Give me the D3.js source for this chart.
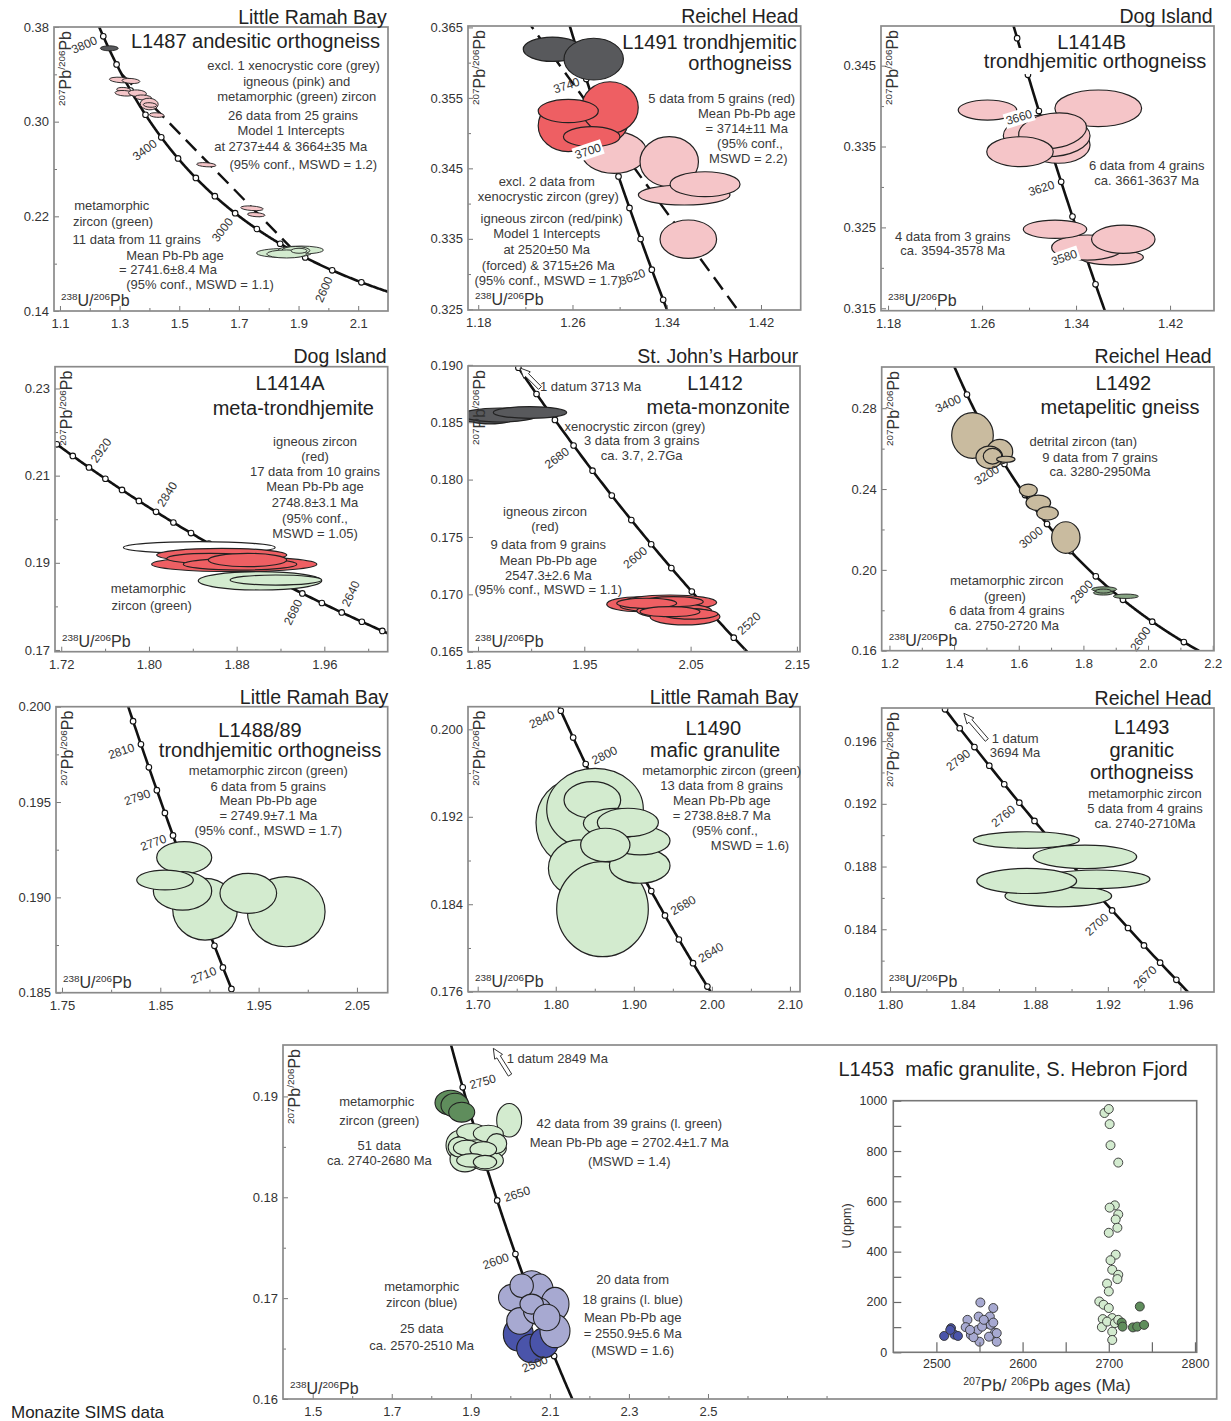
<!DOCTYPE html>
<html><head><meta charset="utf-8">
<script src="https://cdn.jsdelivr.net/npm/d3@7"></script>
<style>body{margin:0;background:#fff} text{font-family:"Liberation Sans",Arial,sans-serif}</style>
</head><body>
<svg id="c" width="1231" height="1421"></svg>
<script>
// ================= DATA =================
// Axis tick values per panel
const xTicksA=[1.1,1.3,1.5,1.7,1.9,2.1], xMinorA=[1.2,1.4,1.6,1.8,2.0], yTicksA=[0.14,0.22,0.30,0.38], yMinorA=[0.18,0.26,0.34];
const xTicksB=[1.18,1.26,1.34,1.42], xMinorB=[1.22,1.30,1.38], yTicksB=[0.325,0.335,0.345,0.355,0.365], yMinorB=[0.330,0.340,0.350,0.360];
const xTicksC=[1.18,1.26,1.34,1.42], xMinorC=[1.22,1.30,1.38], yTicksC=[0.315,0.325,0.335,0.345], yMinorC=[0.320,0.330,0.340];
const xTicksD=[1.72,1.80,1.88,1.96], xMinorD=[1.76,1.84,1.92,2.00], yTicksD=[0.17,0.19,0.21,0.23], yMinorD=[0.18,0.20,0.22];
const xTicksE=[1.85,1.95,2.05,2.15], xMinorE=[1.90,2.00,2.10], yTicksE=[0.165,0.170,0.175,0.180,0.185,0.190], yMinorE=[];
const xTicksF=[1.2,1.4,1.6,1.8,2.0,2.2], xMinorF=[1.3,1.5,1.7,1.9,2.1], yTicksF=[0.16,0.20,0.24,0.28], yMinorF=[0.18,0.22,0.26];
const xTicksG=[1.75,1.85,1.95,2.05], xMinorG=[1.80,1.90,2.00], yTicksG=[0.185,0.190,0.195,0.200], yMinorG=[0.1875,0.1925,0.1975];
const xTicksH=[1.70,1.80,1.90,2.00,2.10], xMinorH=[1.75,1.85,1.95,2.05], yTicksH=[0.176,0.184,0.192,0.200], yMinorH=[0.180,0.188,0.196];
const xTicksI=[1.80,1.84,1.88,1.92,1.96], xMinorI=[1.82,1.86,1.90,1.94], yTicksI=[0.180,0.184,0.188,0.192,0.196], yMinorI=[0.182,0.186,0.190,0.194];
const xTicksK=[1.5,1.7,1.9,2.1,2.3,2.5], xMinorK=[1.6,1.8,2.0,2.2,2.4,2.6,2.7,2.8], yTicksK=[0.16,0.17,0.18,0.19], yMinorK=[0.165,0.175,0.185];
const xTicksU=[2500,2600,2700,2800], xMinorU=[2550,2650,2750], yTicksU=[0,200,400,600,800,1000], yMinorU=[100,300,500,700,900];

// Concordia marker ages (Ma) and labelled ages
const concAgesA=[2500,2600,2700,2800,2900,3000,3100,3200,3300,3400,3500,3600,3700,3800], concLabelsA=[3800,3400,3000,2600];
const concAgesB=[3580,3600,3620,3640,3660,3680,3700,3720,3740,3760,3780], concLabelsB=[3740,3700,3620];
const concAgesC=[3540,3560,3580,3600,3620,3640,3660,3680,3700,3720], concLabelsC=[3660,3620,3580];
const concAgesD=[2580,2600,2620,2640,2660,2680,2700,2720,2740,2760,2780,2800,2820,2840,2860,2880,2900,2920,2940,2960,2980], concLabelsD=[2920,2840,2680,2640];
const concAgesE=[2500,2520,2540,2560,2580,2600,2620,2640,2660,2680,2700,2720,2740,2760], concLabelsE=[2680,2600,2520];
const concAgesF=[2400,2500,2600,2700,2800,2900,3000,3100,3200,3300,3400,3500], concLabelsF=[3400,3200,3000,2800,2600];
const concAgesG=[2680,2690,2700,2710,2720,2730,2740,2750,2760,2770,2780,2790,2800,2810,2820,2830,2840], concLabelsG=[2810,2790,2770,2710];
const concAgesH=[2600,2620,2640,2660,2680,2700,2720,2740,2760,2780,2800,2820,2840,2860], concLabelsH=[2840,2800,2680,2640];
const concAgesI=[2640,2650,2660,2670,2680,2690,2700,2710,2720,2730,2740,2750,2760,2770,2780,2790,2800,2810], concLabelsI=[2790,2760,2700,2670];
const concAgesK=[2450,2500,2550,2600,2650,2700,2750,2800], concLabelsK=[2750,2650,2600,2500];

// Discordia intercept ages (Ma): [upper, lower]
const discA=[3664,2737], discB=[3715,2520];

// Error ellipses: [238U/206Pb, 207Pb/206Pb, half-width x, half-height y, tilt deg]
const greyA=[[1.2654,0.3620,0.030,0.0021,0]];
const pinkA=[[1.3057,0.3352,0.040,0.0023,4],[1.338,0.3344,0.030,0.0021,4],[1.3137,0.3270,0.0235,0.0019,4],[1.3164,0.3240,0.0319,0.0023,4],
 [1.360,0.3240,0.0302,0.0028,4],[1.3795,0.3204,0.0278,0.0021,4],[1.3993,0.3149,0.0302,0.0049,4],[1.402,0.3141,0.0225,0.0019,4],
 [1.4244,0.3056,0.0245,0.0019,4],[1.5907,0.2636,0.0325,0.0017,4],[1.744,0.2268,0.0379,0.0019,4],[1.758,0.2214,0.0295,0.0017,4]];
const greenA=[[1.8513,0.1890,0.0922,0.0038,0],[1.9077,0.1915,0.0755,0.0034,0],[1.8909,0.1911,0.047,0.0034,0],[1.860,0.1882,0.067,0.0034,0],[1.9016,0.1909,0.0268,0.0021,0]];

const greyB=[[1.2430,0.3619,0.0248,0.00173,0],[1.2780,0.3605,0.0252,0.00296,0]];
const pinkB=[[1.2954,0.34725,0.0276,0.00296,0],[1.3421,0.34594,0.0248,0.00355,0],[1.3548,0.34122,0.0389,0.00142,0],[1.3725,0.34275,0.0297,0.00177,0],[1.3583,0.33495,0.0240,0.00272,0]];
const redB=[[1.2850,0.3515,0.022,0.0030,0],[1.2564,0.35104,0.0255,0.00366,0],[1.2918,0.35363,0.0240,0.00366,0],[1.2564,0.35314,0.0255,0.00166,0],[1.2763,0.34949,0.0240,0.00142,0]];

const pinkC=[[1.2646,0.33951,0.0249,0.00124,0],[1.3589,0.33972,0.0369,0.00227,0],[1.3249,0.33519,0.0270,0.00226,0],[1.3150,0.33632,0.0369,0.00258,0],
 [1.3200,0.33694,0.0291,0.00216,-8],[1.2923,0.33436,0.0283,0.00185,0],
 [1.3703,0.3213,0.0270,0.00093,0],[1.3497,0.32251,0.0305,0.00155,0],[1.3221,0.32477,0.0270,0.00114,0],[1.3802,0.32354,0.0270,0.00175,0]];

const whiteD=[[1.8459,0.19351,0.0692,0.00134,0]];
const greenD=[[1.9013,0.18587,0.0563,0.00211,0],[1.9158,0.18605,0.0418,0.00115,0]];
const redD=[[1.8778,0.18968,0.0753,0.00172,0],[1.8664,0.19179,0.0593,0.00153,0],[1.8557,0.1910,0.0395,0.00115,0],[1.8831,0.18968,0.0517,0.00134,0],[1.8899,0.19064,0.0358,0.00153,0]];

const greyE=[[1.8613,0.18537,0.0235,0.00052,0],[1.8707,0.18563,0.0357,0.00061,0],[1.8989,0.18585,0.0345,0.00051,0]];
const redE=[[2.0024,0.16914,0.0313,0.00065,0],[2.0306,0.16929,0.0439,0.00065,0],[2.0212,0.16898,0.0376,0.00052,0],[2.0346,0.16856,0.0353,0.00065,0],
 [2.0447,0.16805,0.0329,0.00072,0],[2.0494,0.16828,0.0263,0.00044,0],[2.0337,0.16936,0.0282,0.00044,0],[2.0087,0.16922,0.0282,0.00044,0],[2.0306,0.16849,0.0282,0.00044,0]];

const tanF=[[1.4569,0.26649,0.0644,0.01129,0],[1.5411,0.25847,0.0402,0.00609,0],[1.5089,0.25575,0.0412,0.00554,0],[1.5188,0.25624,0.0285,0.00386,0],[1.5600,0.25475,0.0285,0.00149,0],
 [1.6296,0.23936,0.0278,0.00312,0],[1.6605,0.23317,0.0381,0.00386,0],[1.6890,0.22797,0.0334,0.00332,0],[1.7456,0.21600,0.0439,0.00782,0]];
const greenF=[[1.8644,0.19040,0.0387,0.00124,0],[1.8617,0.18862,0.0309,0.00109,0],[1.9313,0.18693,0.0387,0.00109,0],[1.8617,0.18951,0.0248,0.00099,0]];

const greenG=[[1.8955,0.18938,0.0329,0.00162,0],[1.8743,0.19209,0.0280,0.00083,0],[1.8726,0.19034,0.0297,0.00101,0],[1.8548,0.19091,0.0288,0.00052,0],
 [1.9781,0.18925,0.0395,0.00184,0],[1.9395,0.19021,0.0288,0.00105,0]];

const greenH=[[1.8221,0.19148,0.0474,0.00389,0],[1.8503,0.19269,0.0619,0.00373,0],[1.8301,0.18729,0.0395,0.00259,0],[1.8599,0.18355,0.0587,0.00435,0],
 [1.9076,0.18752,0.0388,0.00160,0],[1.9080,0.18981,0.0384,0.00130,0],[1.8469,0.19354,0.0363,0.00167,0],[1.8770,0.19140,0.0416,0.00137,0],
 [1.8924,0.19148,0.0391,0.00130,0],[1.8635,0.18942,0.0316,0.00153,0]];

const greenI=[[1.8751,0.18969,0.0292,0.00053,0],[1.8927,0.18612,0.0294,0.00069,0],[1.9138,0.18719,0.0294,0.00059,0],[1.9074,0.18862,0.0285,0.00075,0],[1.8753,0.18708,0.0275,0.00080,0]];

const dGreenK=[[1.8494,0.18938,0.0400,0.00124,0],[1.8600,0.18913,0.0354,0.00119,0],[1.8770,0.18844,0.0329,0.00099,0]];
const lGreenK=[[1.9971,0.18764,0.0316,0.00166,0],[1.8727,0.18515,0.0354,0.00149,0],[1.9316,0.18482,0.0582,0.00114,0],[1.8853,0.18376,0.0379,0.00124,0],
 [1.9402,0.18366,0.0422,0.00099,0],[1.9063,0.18548,0.0506,0.00085,0],[1.9022,0.18648,0.0379,0.00083,0],[1.9443,0.18632,0.0379,0.00083,0],
 [1.8706,0.18499,0.0278,0.00099,0],[1.9655,0.18532,0.0253,0.00099,0],[1.8896,0.18490,0.0336,0.00075,0],[1.9316,0.18475,0.0336,0.00075,0],
 [1.9022,0.18366,0.0379,0.00067,0],[1.9359,0.18349,0.0296,0.00067,0]];
const dBlueK=[[2.0202,0.16642,0.0379,0.00166,0],[2.0540,0.16501,0.0379,0.00141,0],[2.0857,0.16559,0.0359,0.00149,0]];
const lBlueK=[[2.0540,0.17123,0.0379,0.00149,0],[2.0055,0.17006,0.0354,0.00132,0],[2.0750,0.17073,0.0336,0.00166,0],[2.1130,0.16941,0.0354,0.00166,0],
 [2.0244,0.16774,0.0336,0.00132,0],[2.0687,0.16874,0.0354,0.00132,0],[2.1130,0.16675,0.0379,0.00166,0],[2.0287,0.17123,0.0296,0.00116,0],
 [2.0540,0.16941,0.0296,0.00099,0],[2.0920,0.16808,0.0336,0.00132,0]];

// Inset: [207Pb/206Pb age (Ma), U (ppm)]
const dBlueU=[[2509,65],[2517,96],[2521,70],[2525,65],[2516,89]];
const lBlueU=[[2551,198],[2566,176],[2536,129],[2549,142],[2534,100],[2540,69],[2550,42],[2548,89],[2558,113],[2562,142],[2563,109],[2568,78],[2570,42],[2553,102],[2543,60],[2561,62],[2555,129],[2566,118],[2539,89],[2570,76]];
const lGreenU=[[2695,951],[2700,967],[2701,907],[2702,823],[2711,754],[2707,584],[2701,575],[2711,548],[2708,528],[2710,495],[2700,475],[2708,388],[2702,366],[2704,328],[2711,308],[2710,291],[2698,273],[2700,242],[2689,202],[2694,189],[2700,176],[2693,132],[2704,136],[2692,100],[2704,82],[2704,49],[2698,122],[2707,116],[2711,129]];
const dGreenU=[[2736,182],[2715,118],[2728,99],[2733,102],[2741,109],[2716,102]];

// ================= STYLE / LAYOUT =================
const COL={pink:'#f5c5c8',red:'#ee5f63',grey:'#58595c',lgreen:'#d3ebcf',tan:'#c9bb9f',mgreen:'#86a382',dgreen:'#5f8d5c',lblue:'#a7a9d1',dblue:'#4a54aa',white:'#ffffff'};
const svg=d3.select('#c');
svg.append('rect').attr('width',1231).attr('height',1421).attr('fill','#fff');

// Theoretical Tera-Wasserburg concordia (reference curve, decay constants of Jaffey et al. 1971)
const L238=1.55125e-4, L235=9.8485e-4, U85=137.88;
function concordia(t){const a=Math.expm1(L238*t), b=Math.expm1(L235*t); return [1/a, b/(U85*a)];}

const panels=[
 {id:'A',frame:[54,27,388,311],xd:[1.08,2.2],yd:[0.14,0.38],xt:xTicksA,xm:xMinorA,yt:yTicksA,ym:yMinorA,xf:'.1f',yf:'.2f',
  tr:[2300,3950],ages:concAgesA,lab:concLabelsA,sides:[-1,-1,-1,-1],bgLab:[],disc:discA,discS:[0,1],
  sets:[[greyA,COL.grey,0.9],[pinkA,COL.pink,0.9],[greenA,COL.lgreen,0.9]],
  loc:['Little Ramah Bay',386.7,24],titles:[['L1487 andesitic orthogneiss',380,41,'end']],
  notes:[['excl. 1 xenocrystic core (grey)',293.5,65],['igneous (pink) and',296.7,81],['metamorphic (green) zircon',296.7,96.7],['26 data from 25 grains',293,115],
   ['Model 1 Intercepts',291,130.7],['at 2737±44 & 3664±35 Ma',290.7,146.7],['(95% conf., MSWD = 1.2)',303.3,164],
   ['metamorphic',111.7,205.7],['zircon (green)',113,221.7],['11 data from 11 grains',136.7,239],['Mean Pb-Pb age',175,255],['= 2741.6±8.4 Ma',168,269.3],['(95% conf., MSWD = 1.1)',200,284.3]]},
 {id:'B',frame:[468,26,800.7,310],xd:[1.1713,1.4537],yd:[0.3249,0.3652],xt:xTicksB,xm:xMinorB,yt:yTicksB,ym:yMinorB,xf:'.2f',yf:'.3f',
  tr:[3550,3800],ages:concAgesB,lab:concLabelsB,sides:[-1,-1,-1],bgLab:[3700],disc:discB,discS:[-0.15,1],
  sets:[[greyB,COL.grey,1.2],[pinkB,COL.pink,1.2],[redB,COL.red,1.2]],
  loc:['Reichel Head',798.3,23],titles:[['L1491 trondhjemitic',796.7,42.3,'end'],['orthogneiss',791.7,62.5,'end']],
  notes:[['5 data from 5 grains (red)',721.7,98.3],['Mean Pb-Pb age',746.7,113.3],['= 3714±11 Ma',746.7,128.3],['(95% conf.,',750,143.3],['MSWD = 2.2)',748.3,158.3],
   ['excl. 2 data from',546.7,181.7],['xenocrystic zircon (grey)',548.3,196.7],['igneous zircon (red/pink)',551.7,218.3],['Model 1 Intercepts',546.7,233.3],
   ['at 2520±50 Ma',546.7,249.3],['(forced) & 3715±26 Ma',548.3,265],['(95% conf., MSWD = 1.7)',548.3,280]]},
 {id:'C',frame:[881,26,1214,310.7],xd:[1.174,1.4574],yd:[0.3147,0.3499],xt:xTicksC,xm:xMinorC,yt:yTicksC,ym:yMinorC,xf:'.2f',yf:'.3f',
  tr:[3480,3760],ages:concAgesC,lab:concLabelsC,sides:[-1,-1,-1],bgLab:[3660,3580],
  sets:[[pinkC,COL.pink,1.2]],
  loc:['Dog Island',1212.7,23],titles:[['L1414B',1091.7,41.7,'middle',true],['trondhjemitic orthogneiss',1095,61,'middle',true]],
  notes:[['6 data from 4 grains',1146.7,165],['ca. 3661-3637 Ma',1146.7,180],['4 data from 3 grains',952.7,236],['ca. 3594-3578 Ma',952.7,250.7]]},
 {id:'D',frame:[55,366.7,387.7,651.7],xd:[1.7143,2.0178],yd:[0.1696,0.235],xt:xTicksD,xm:xMinorD,yt:yTicksD,ym:yMinorD,xf:'.2f',yf:'.2f',
  tr:[2540,3020],ages:concAgesD,lab:concLabelsD,sides:[1,1,-1,1],bgLab:[],
  sets:[[whiteD,COL.white,1.2],[greenD,COL.lgreen,1.2],[redD,COL.red,1.2]],
  loc:['Dog Island',386.7,363],titles:[['L1414A',290,383.3,'middle'],['meta-trondhjemite',293.3,408.3,'middle']],
  notes:[['igneous zircon',315,441.7],['(red)',315,456.7],['17 data from 10 grains',315,471.7],['Mean Pb-Pb age',315,486.7],['2748.8±3.1 Ma',315,502.3],
   ['(95% conf.,',315,518.3],['MSWD = 1.05)',315,533.3],['metamorphic',148.3,588.3],['zircon (green)',151.7,605]]},
 {id:'E',frame:[468,366,800,651.7],xd:[1.8406,2.1529],yd:[0.165,0.1899],xt:xTicksE,xm:xMinorE,yt:yTicksE,ym:yMinorE,xf:'.2f',yf:'.3f',
  tr:[2450,2790],ages:concAgesE,lab:concLabelsE,sides:[-1,-1,1],bgLab:[],
  sets:[[greyE,COL.grey,1.2],[redE,COL.red,1.2]],arrow:[[1.9083,0.18798],[1.8895,0.18973]],
  loc:['St. John’s Harbour',798.3,363],titles:[['L1412',715,383.3,'middle'],['meta-monzonite',718.3,406.7,'middle']],
  notes:[['1 datum 3713 Ma',540,386.7,'start'],['xenocrystic zircon (grey)',635,426.7],['3 data from 3 grains',641.7,440.7],['ca. 3.7, 2.7Ga',641.7,455],
   ['igneous zircon',545,511.7],['(red)',545,526.7],['9 data from 9 grains',548.3,544],['Mean Pb-Pb age',548.3,560],['2547.3±2.6 Ma',548.3,575],['(95% conf., MSWD = 1.1)',548.3,589.3]]},
 {id:'F',frame:[881.7,367,1214,650.7],xd:[1.176,2.204],yd:[0.16,0.3004],xt:xTicksF,xm:xMinorF,yt:yTicksF,ym:yMinorF,xf:'.1f',yf:'.2f',
  tr:[2300,3600],ages:concAgesF,lab:concLabelsF,sides:[-1,-1,-1,-1,-1],bgLab:[],
  sets:[[tanF,COL.tan,1.2],[greenF,COL.mgreen,0.9]],
  loc:['Reichel Head',1211.7,363],titles:[['L1492',1123.3,382.7,'middle'],['metapelitic gneiss',1120,406.7,'middle']],
  notes:[['detrital zircon (tan)',1083.3,441.7],['9 data from 7 grains',1100,457.3],['ca. 3280-2950Ma',1100,471.7],
   ['metamorphic zircon',1006.7,580.7],['(green)',1005,596],['6 data from 4 grains',1006.7,610],['ca. 2750-2720 Ma',1006.7,625]]},
 {id:'G',frame:[56,706.7,387.7,992.7],xd:[1.7439,2.0813],yd:[0.185,0.2],xt:xTicksG,xm:xMinorG,yt:yTicksG,ym:yMinorG,xf:'.2f',yf:'.3f',
  tr:[2650,2860],ages:concAgesG,lab:concLabelsG,sides:[-1,-1,-1,-1],bgLab:[],
  sets:[[greenG,COL.lgreen,1.2]],
  loc:['Little Ramah Bay',388.3,703.5],titles:[['L1488/89',260,730,'middle'],['trondhjemitic orthogneiss',270,750,'middle']],
  notes:[['metamorphic zircon (green)',268.3,770.7],['6 data from 5 grains',268.3,786],['Mean Pb-Pb age',268.3,800.7],['= 2749.9±7.1 Ma',268.3,815],['(95% conf., MSWD = 1.7)',268.3,830]]},
 {id:'H',frame:[468,706.7,800,991.7],xd:[1.6876,2.1129],yd:[0.176,0.20207],xt:xTicksH,xm:xMinorH,yt:yTicksH,ym:yMinorH,xf:'.2f',yf:'.3f',
  tr:[2560,2880],ages:concAgesH,lab:concLabelsH,sides:[-1,1,1,1],bgLab:[],
  sets:[[greenH,COL.lgreen,1.2]],
  loc:['Little Ramah Bay',798.3,703.5],titles:[['L1490',713.3,728.3,'middle'],['mafic granulite',715,750,'middle']],
  notes:[['metamorphic zircon (green)',721.7,770],['13 data from 8 grains',721.7,785],['Mean Pb-Pb age',721.7,800],['= 2738.8±8.7 Ma',721.7,815],['(95% conf.,',725,830],['MSWD = 1.6)',750,845]]},
 {id:'I',frame:[881.7,708,1214,992],xd:[1.7954,1.9785],yd:[0.18,0.19811],xt:xTicksI,xm:xMinorI,yt:yTicksI,ym:yMinorI,xf:'.2f',yf:'.3f',
  tr:[2620,2830],ages:concAgesI,lab:concLabelsI,sides:[-1,-1,-1,-1],bgLab:[],
  sets:[[greenI,COL.lgreen,1.2]],arrow:[[1.8533,0.19607],[1.8407,0.19777]],
  loc:['Reichel Head',1211.7,704.5],titles:[['L1493',1141.7,726.7,'middle'],['granitic',1141.7,750,'middle'],['orthogneiss',1141.7,771.7,'middle']],
  notes:[['metamorphic zircon',1145,793.3],['5 data from 4 grains',1145,808.3],['ca. 2740-2710Ma',1145,823.3],['1 datum',991.7,738.3,'start'],['3694 Ma',1015,752.7]]},
 {id:'K',frame:[283,1045,1216.7,1399],xd:[1.4249,3.787],yd:[0.16,0.1951],xt:xTicksK,xm:xMinorK,yt:yTicksK,ym:yMinorK,xf:'.1f',yf:'.2f',
  tr:[2400,2850],ages:concAgesK,lab:concLabelsK,sides:[1,1,-1,-1],bgLab:[],
  sets:[[dGreenK,COL.dgreen,1.1],[lGreenK,COL.lgreen,1.1],[dBlueK,COL.dblue,1.1],[lBlueK,COL.lblue,1.1]],arrow:[[1.9991,0.19212],[1.9569,0.19477]],
  loc:null,titles:[],
  notes:[['1 datum 2849 Ma',506.7,1058.3,'start'],['metamorphic',376.7,1101.7],['zircon (green)',379.3,1120],['51 data',379.3,1145],['ca. 2740-2680 Ma',379.3,1160],
   ['42 data from 39 grains (l. green)',629.3,1123.3],['Mean Pb-Pb age = 2702.4±1.7  Ma',629.3,1142.7],['(MSWD = 1.4)',629.3,1161.7],
   ['metamorphic',421.7,1286],['zircon (blue)',421.7,1302.7],['25 data',421.7,1328.3],['ca. 2570-2510 Ma',421.7,1345],
   ['20 data from',632.7,1279.3],['18 grains (l. blue)',632.7,1299.3],['Mean Pb-Pb age',632.7,1317.7],['= 2550.9±5.6  Ma',632.7,1333.3],['(MSWD = 1.6)',632.7,1350]]}
];

// ================= DRAW =================
function richText(g,x,y,parts,size,rot,anchor){
  const t=g.append('text').attr('x',x).attr('y',y).attr('font-size',size).attr('fill','#333').attr('text-anchor',anchor||'start');
  if(rot) t.attr('transform',`rotate(${rot},${x},${y})`);
  let up=false;
  parts.forEach(([s,sup])=>{
    const sp=t.append('tspan').text(s);
    if(sup){sp.attr('font-size',size*0.62); if(!up){sp.attr('dy',-size*0.38); up=true;}}
    else if(up){sp.attr('dy',size*0.38); up=false;}
  });
  return t;
}
function arrowPath(p1,p2){
  const dx=p2[0]-p1[0], dy=p2[1]-p1[1], L=Math.hypot(dx,dy), ux=dx/L, uy=dy/L, nx=-uy, ny=ux;
  const hw=2, hh=4.6, hl=10, bx=p2[0]-ux*hl, by=p2[1]-uy*hl;
  const pts=[[p1[0]+nx*hw,p1[1]+ny*hw],[bx+nx*hw,by+ny*hw],[bx+nx*hh,by+ny*hh],p2,[bx-nx*hh,by-ny*hh],[bx-nx*hw,by-ny*hw],[p1[0]-nx*hw,p1[1]-ny*hw]];
  return 'M'+pts.map(p=>p[0].toFixed(1)+','+p[1].toFixed(1)).join('L')+'Z';
}

panels.forEach(p=>{
  const [x0,y0,x1,y1]=p.frame;
  const x=d3.scaleLinear().domain(p.xd).range([x0,x1]);
  const y=d3.scaleLinear().domain(p.yd).range([y1,y0]);
  const g=svg.append('g');
  const cid='clip'+p.id;
  svg.append('clipPath').attr('id',cid).append('rect').attr('x',x0).attr('y',y0).attr('width',x1-x0).attr('height',y1-y0);
  const plot=g.append('g').attr('clip-path',`url(#${cid})`);

  // discordia (dashed)
  if(p.disc){
    const a=concordia(p.disc[0]), b=concordia(p.disc[1]);
    const pt=s=>[a[0]+s*(b[0]-a[0]), a[1]+s*(b[1]-a[1])];
    const s0=pt(p.discS[0]), s1=pt(p.discS[1]);
    plot.append('line').attr('x1',x(s0[0])).attr('y1',y(s0[1])).attr('x2',x(s1[0])).attr('y2',y(s1[1]))
      .attr('stroke','#111').attr('stroke-width',2.4).attr('stroke-dasharray','15,8');
  }
  // concordia curve
  const ts=d3.range(p.tr[0],p.tr[1]+1,2).map(concordia);
  plot.append('path').datum(ts).attr('d',d3.line().x(d=>x(d[0])).y(d=>y(d[1])))
    .attr('fill','none').attr('stroke','#111').attr('stroke-width',2.6);
  plot.selectAll(null).data(p.ages.map(concordia)).join('circle')
    .attr('cx',d=>x(d[0])).attr('cy',d=>y(d[1])).attr('r',2.8).attr('fill','#fff').attr('stroke','#111').attr('stroke-width',1.1);

  // ellipses
  p.sets.forEach(([set,col,sw])=>{
    plot.selectAll(null).data(set).join('ellipse')
      .attr('cx',d=>x(d[0])).attr('cy',d=>y(d[1]))
      .attr('rx',d=>Math.abs(x(d[0]+d[2])-x(d[0]))).attr('ry',d=>Math.abs(y(d[1]+d[3])-y(d[1])))
      .attr('transform',d=>`rotate(${d[4]},${x(d[0])},${y(d[1])})`)
      .attr('fill',col).attr('stroke','#222').attr('stroke-width',sw);
  });

  // datum arrow
  if(p.arrow){
    const a=[x(p.arrow[0][0]),y(p.arrow[0][1])], b=[x(p.arrow[1][0]),y(p.arrow[1][1])];
    g.append('path').attr('d',arrowPath(a,b)).attr('fill','#fff').attr('stroke','#333').attr('stroke-width',1);
  }

  // concordia age labels
  p.lab.forEach((age,i)=>{
    const c=concordia(age), c1=concordia(age+4), c2=concordia(age-4);
    const X=x(c[0]), Y=y(c[1]);
    const th=Math.atan2(y(c2[1])-y(c1[1]), x(c2[0])-x(c1[0]))*180/Math.PI;
    const rot=th-90, r=rot*Math.PI/180, side=p.sides[i];
    const px=X+side*7.5*Math.cos(r), py=Y+side*7.5*Math.sin(r);
    const lg=g.append('g').attr('transform',`translate(${px},${py}) rotate(${rot})`);
    const t=lg.append('text').attr('x',0).attr('y',0).attr('dy','0.35em').attr('font-size',12).attr('fill','#333')
      .attr('text-anchor',side>0?'start':'end').text(age);
    if(p.bgLab.includes(age)){
      const bb=t.node().getBBox();
      lg.insert('rect','text').attr('x',bb.x-1.5).attr('y',bb.y-0.5).attr('width',bb.width+3).attr('height',bb.height+1).attr('fill','#fff');
    }
  });

  // axes (ticks inside)
  const ax=g.append('g').attr('font-size',13);
  ax.append('g').attr('transform',`translate(0,${y1})`)
    .call(d3.axisBottom(x).tickValues(p.xt).tickSize(-5).tickPadding(8).tickFormat(d3.format(p.xf)));
  ax.append('g').attr('transform',`translate(0,${y1})`).call(d3.axisBottom(x).tickValues(p.xm).tickSize(-3).tickFormat(''));
  ax.append('g').attr('transform',`translate(${x0},0)`)
    .call(d3.axisLeft(y).tickValues(p.yt).tickSize(-5).tickPadding(5).tickFormat(d3.format(p.yf)));
  ax.append('g').attr('transform',`translate(${x0},0)`).call(d3.axisLeft(y).tickValues(p.ym).tickSize(-3).tickFormat(''));
  ax.selectAll('.domain').remove();
  ax.selectAll('line').attr('stroke','#777');
  ax.selectAll('text').attr('fill','#333').attr('font-family','"Liberation Sans",Arial,sans-serif').attr('font-size',13);

  // frame
  g.append('rect').attr('x',x0).attr('y',y0).attr('width',x1-x0).attr('height',y1-y0)
    .attr('fill','none').attr('stroke','#8a8a8a').attr('stroke-width',1.7);

  // axis titles inside frame
  richText(g,x0+17,y0+4,[['207',1],['Pb',0],['/206',1],['Pb',0]],16,-90,'end');
  richText(g,x0+7,y1-5,[['238',1],['U/',0],['206',1],['Pb',0]],16,0,'start');

  // location, sample titles, notes
  if(p.loc) g.append('text').attr('x',p.loc[1]).attr('y',p.loc[2]).attr('text-anchor','end').attr('font-size',19.5).attr('fill','#222').text(p.loc[0]);
  const bgLayer=g.append('g'), txtLayer=g.append('g');
  p.titles.forEach(([s,tx,ty,anc,bg])=>{
    const t=txtLayer.append('text').attr('x',tx).attr('y',ty).attr('dy','0.35em').attr('text-anchor',anc).attr('font-size',20).attr('fill','#222').text(s);
    if(bg){const bb=t.node().getBBox(); bgLayer.append('rect').attr('x',bb.x-3).attr('y',bb.y-2).attr('width',bb.width+6).attr('height',bb.height+4).attr('fill','#fff');}
  });
  p.notes.forEach(([s,tx,ty,anc])=>{
    txtLayer.append('text').attr('x',tx).attr('y',ty).attr('dy','0.35em').attr('text-anchor',anc||'middle').attr('font-size',13).attr('fill','#3a3a3a').text(s);
  });
});

// ===== Inset: U (ppm) vs 207Pb/206Pb age =====
(function(){
  const f=[893.3,1100.7,1196.7,1352.3];
  const x=d3.scaleLinear().domain([2450,2802]).range([f[0],f[2]]);
  const y=d3.scaleLinear().domain([0,1000]).range([f[3],f[1]]);
  const g=svg.append('g');
  g.append('text').attr('x',1013).attr('y',1069).attr('dy','0.35em').attr('text-anchor','middle').attr('font-size',20).attr('fill','#222')
    .text('L1453\u00a0 mafic granulite, S. Hebron Fjord');
  const sets=[[dBlueU,COL.dblue],[lBlueU,COL.lblue],[lGreenU,COL.lgreen],[dGreenU,COL.dgreen]];
  sets.forEach(([s,c])=>{
    g.selectAll(null).data(s).join('circle').attr('cx',d=>x(d[0])).attr('cy',d=>y(d[1])).attr('r',4.5)
      .attr('fill',c).attr('stroke','#333').attr('stroke-width',0.9);
  });
  const ax=g.append('g');
  ax.append('g').attr('transform',`translate(0,${f[3]})`).call(d3.axisBottom(x).tickValues(xTicksU).tickSize(-10).tickPadding(7).tickFormat(d3.format('d')));
  ax.append('g').attr('transform',`translate(0,${f[3]})`).call(d3.axisBottom(x).tickValues(xMinorU).tickSize(-10).tickFormat(''));
  ax.append('g').attr('transform',`translate(${f[0]},0)`).call(d3.axisLeft(y).tickValues(yTicksU).tickSize(-8).tickPadding(6).tickFormat(d3.format('d')));
  ax.append('g').attr('transform',`translate(${f[0]},0)`).call(d3.axisLeft(y).tickValues(yMinorU).tickSize(-8).tickFormat(''));
  ax.selectAll('.domain').remove();
  ax.selectAll('line').attr('stroke','#666').attr('stroke-width',1.2);
  ax.selectAll('text').attr('fill','#333').attr('font-family','"Liberation Sans",Arial,sans-serif').attr('font-size',12.5);
  g.append('rect').attr('x',f[0]).attr('y',f[1]).attr('width',f[2]-f[0]).attr('height',f[3]-f[1]).attr('fill','none').attr('stroke','#777').attr('stroke-width',1.6);
  g.append('text').attr('transform','translate(851,1226) rotate(-90)').attr('text-anchor','middle').attr('font-size',12.5).attr('fill','#333').text('U (ppm)');
  richText(g,1047,1391,[['207',1],['Pb/ ',0],['206',1],['Pb ages (Ma)',0]],17,0,'middle');
})();

svg.append('text').attr('x',11).attr('y',1418).attr('font-size',17).attr('fill','#222').text('Monazite SIMS data');
</script>
</body></html>
